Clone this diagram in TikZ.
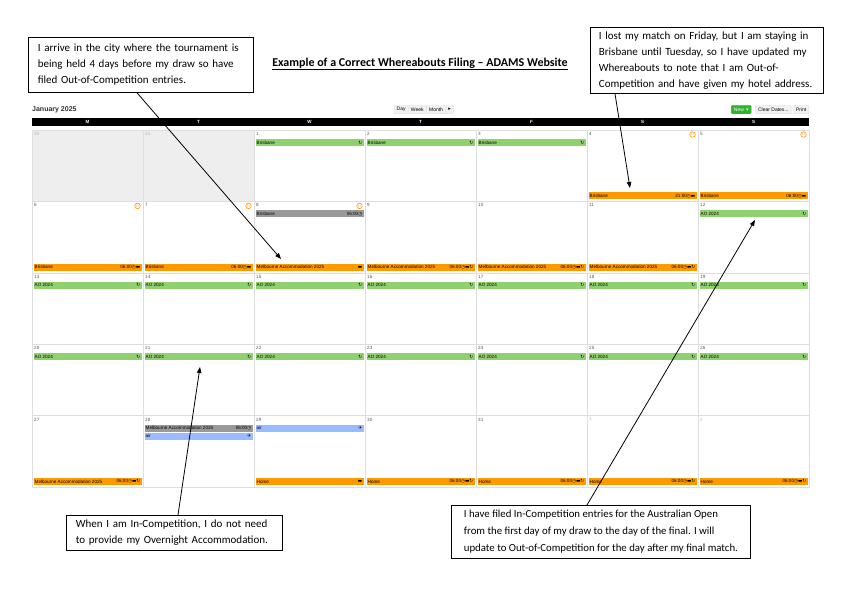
\documentclass[tikz,border=0pt]{standalone}
\usepackage{fontspec}
\setmainfont{Carlito}
\newfontfamily\calfont{Liberation Sans}
\newfontfamily\symfont{DejaVu Sans}
\usetikzlibrary{arrows.meta}

\definecolor{aogreen}{HTML}{8FD16F}
\definecolor{ocorange}{HTML}{FF9900}
\definecolor{evgray}{HTML}{999999}
\definecolor{airblue}{HTML}{99BBFF}
\definecolor{gridline}{HTML}{DEDEDE}
\definecolor{prevday}{HTML}{EEEEEE}
\definecolor{btngray}{HTML}{F2F2F2}
\definecolor{newgreen}{HTML}{2DB52D}

\begin{document}
\begin{tikzpicture}[x=1pt, y=-1pt,
    callout/.style={draw, line width=0.8pt, fill=white, anchor=north west, align=left,
        inner xsep=9pt, inner ysep=3pt, font=\fontsize{11}{16}\selectfont},
    pointer/.style={line width=0.8pt, -{Triangle[length=6pt, width=4.5pt]}},
    calbar/.style={anchor=north west, minimum width=108pt, minimum height=7pt,
        inner sep=0pt, outer sep=0pt},
    bartext/.style={inner xsep=1pt, inner ysep=0pt, font=\calfont\fontsize{4.6}{5}\selectfont},
    datetext/.style={anchor=north west, inner sep=0pt, font=\calfont\fontsize{4.6}{5}\selectfont},
    button/.style={draw=gridline, fill=btngray, rounded corners=1pt, minimum height=8.5pt,
        inner xsep=2.5pt, inner ysep=0pt, font=\calfont\fontsize{5}{6}\selectfont}]
    \useasboundingbox (0, 0) rectangle (841, 595);

    \node [font=\bfseries\fontsize{12}{14}\selectfont] (title) at (420, 64)
        {\underline{Example of a Correct Whereabouts Filing -- ADAMS Website}};

    \node [font=\calfont\bfseries\fontsize{7}{8}\selectfont, text=black!80, anchor=west, inner sep=0pt]
        (month) at (32, 110) {January 2025};

    \node [button, anchor=west] (day) at (394, 109.5) {Day};
    \node [button, anchor=west] (week) at (day.east) {Week};
    \node [button, anchor=west] (monthbtn) at (week.east) {Month};
    \node [button, anchor=west] (next) at (monthbtn.east) {\symfont ▸};
    \node [button, anchor=east] (print) at (809, 109.5) {Print};
    \node [button, anchor=east] (clear) at ([xshift=-2pt]print.west) {Clear Dates...};
    \node [button, anchor=east, fill=newgreen, draw=newgreen, text=white] (new)
        at ([xshift=-4pt]clear.west) {New \,{\symfont ▾}};

    \fill [black] (32, 118) rectangle (809, 126);
    \foreach \d [count=\c from 0] in {M, T, W, T, F, S, S}
        \node [text=white, font=\calfont\bfseries\fontsize{4.5}{5}\selectfont, inner sep=0pt]
            (head\c) at (87.5 + 111*\c, 122) {\d};

    \foreach \d [count=\k from 0] in {30, 31, 1, 2, 3, 4, 5, 6, 7, 8, 9, 10, 11, 12, 13, 14, 15,
            16, 17, 18, 19, 20, 21, 22, 23, 24, 25, 26, 27, 28, 29, 30, 31, 1, 2} {
        \pgfmathtruncatemacro\c{mod(\k, 7)}
        \pgfmathtruncatemacro\r{\k/7}
        \ifnum\k<2
            \draw [gridline, fill=prevday] (32 + 111*\c, 130 + 71.4*\r) rectangle ++(111, 71.4);
            \node [datetext, text=black!30] (date\k) at (34 + 111*\c, 132 + 71.4*\r) {\d};
        \else\ifnum\k>32
            \draw [gridline, fill=white] (32 + 111*\c, 130 + 71.4*\r) rectangle ++(111, 71.4);
            \node [datetext, text=black!30] (date\k) at (34 + 111*\c, 132 + 71.4*\r) {\d};
        \else
            \draw [gridline, fill=white] (32 + 111*\c, 130 + 71.4*\r) rectangle ++(111, 71.4);
            \node [datetext, text=black!65] (date\k) at (34 + 111*\c, 132 + 71.4*\r) {\d};
        \fi\fi
    }

    \foreach \c/\r [count=\i] in {5/0, 6/0, 0/1, 1/1, 2/1}
        \node [circle, draw=ocorange, line width=0.6pt, inner sep=0pt, minimum size=5.5pt,
            text=ocorange, font=\calfont\bfseries\fontsize{3.5}{4}\selectfont]
            (flag\i) at (137.5 + 111*\c, 134.5 + 71.4*\r) {!!};

    \foreach \c/\r/\s/\col/\lt/\rt [count=\i] in {
            2/0/9/aogreen/Brisbane/{\symfont ↻},
            3/0/9/aogreen/Brisbane/{\symfont ↻},
            4/0/9/aogreen/Brisbane/{\symfont ↻},
            5/0/62.4/ocorange/Brisbane/{21:00\symfont ◷▬},
            6/0/62.4/ocorange/Brisbane/{06:00\symfont ◷▬},
            0/1/62.4/ocorange/Brisbane/{06:00\symfont ◷▬},
            1/1/62.4/ocorange/Brisbane/{06:00\symfont ◷▬},
            2/1/9/evgray/Brisbane/{06:00\symfont ◷},
            2/1/62.4/ocorange/Melbourne Accommodation 2025/{\symfont ▬},
            3/1/62.4/ocorange/Melbourne Accommodation 2025/{06:00\symfont ◷▬↻},
            4/1/62.4/ocorange/Melbourne Accommodation 2025/{06:00\symfont ◷▬↻},
            5/1/62.4/ocorange/Melbourne Accommodation 2025/{06:00\symfont ◷▬↻},
            6/1/9/aogreen/AO 2024/{\symfont ↻},
            0/2/9/aogreen/AO 2024/{\symfont ↻},
            1/2/9/aogreen/AO 2024/{\symfont ↻},
            2/2/9/aogreen/AO 2024/{\symfont ↻},
            3/2/9/aogreen/AO 2024/{\symfont ↻},
            4/2/9/aogreen/AO 2024/{\symfont ↻},
            5/2/9/aogreen/AO 2024/{\symfont ↻},
            6/2/9/aogreen/AO 2024/{\symfont ↻},
            0/3/9/aogreen/AO 2024/{\symfont ↻},
            1/3/9/aogreen/AO 2024/{\symfont ↻},
            2/3/9/aogreen/AO 2024/{\symfont ↻},
            3/3/9/aogreen/AO 2024/{\symfont ↻},
            4/3/9/aogreen/AO 2024/{\symfont ↻},
            5/3/9/aogreen/AO 2024/{\symfont ↻},
            6/3/9/aogreen/AO 2024/{\symfont ↻},
            0/4/62.4/ocorange/Melbourne Accommodation 2025/{06:00\symfont ◷▬↻},
            1/4/9/evgray/Melbourne Accommodation 2025/{06:00\symfont ◷},
            1/4/17/airblue/air/{\symfont ✈},
            2/4/9/airblue/air/{\symfont ✈},
            2/4/62.4/ocorange/Home/{\symfont ▬},
            3/4/62.4/ocorange/Home/{06:00\symfont ◷▬↻},
            4/4/62.4/ocorange/Home/{06:00\symfont ◷▬↻},
            5/4/62.4/ocorange/Home/{06:00\symfont ◷▬↻},
            6/4/62.4/ocorange/Home/{06:00\symfont ◷▬↻}} {
        \node [calbar, fill=\col] (bar\i) at (33.5 + 111*\c, 130 + 71.4*\r + \s) {};
        \node [bartext, anchor=west] (barl\i) at (bar\i.west) {\lt};
        \node [bartext, anchor=east] (barr\i) at (bar\i.east) {\rt};
    }

    \node [callout, minimum width=225pt, minimum height=55pt, text width=206pt] (arrive) at (28, 37)
        {I arrive in the city where the tournament is\\
         being held 4 days before my draw so have\\
         filed Out-of-Competition entries.};
    \node [callout, inner xsep=8pt, minimum width=233pt, minimum height=66pt, text width=216pt]
        (lost) at (590, 27)
        {I lost my match on Friday, but I am staying in\\
         Brisbane until Tuesday, so I have updated my\\
         Whereabouts to note that I am Out-of-\\
         Competition and have given my hotel address.};
    \node [callout, minimum width=216pt, minimum height=35pt, text width=197pt] (incomp) at (66, 515)
        {When I am In-Competition, I do not need\\
         to provide my Overnight Accommodation.};
    \node [callout, inner xsep=5pt, minimum width=299pt, minimum height=53pt,
        font=\fontsize{10.8}{17}\selectfont] (filed) at (451, 505)
        {I have filed In-Competition entries for the Australian Open\\
         from the first day of my draw to the day of the final. I will\\
         update to Out-of-Competition for the day after my final match.};

    \coordinate (tipA) at (281, 259);
    \coordinate (tipB) at (630, 188);
    \coordinate (tipC) at (200, 367);
    \coordinate (tipD) at (755, 220);

    \draw [pointer] ([xshift=109pt]arrive.south west) -- (tipA);
    \draw [pointer] ([xshift=25pt]lost.south west) -- (tipB);
    \draw [pointer] ([xshift=112pt]incomp.north west) -- (tipC);
    \draw [pointer] ([xshift=136pt]filed.north west) -- (tipD);

\end{tikzpicture}
\end{document}
